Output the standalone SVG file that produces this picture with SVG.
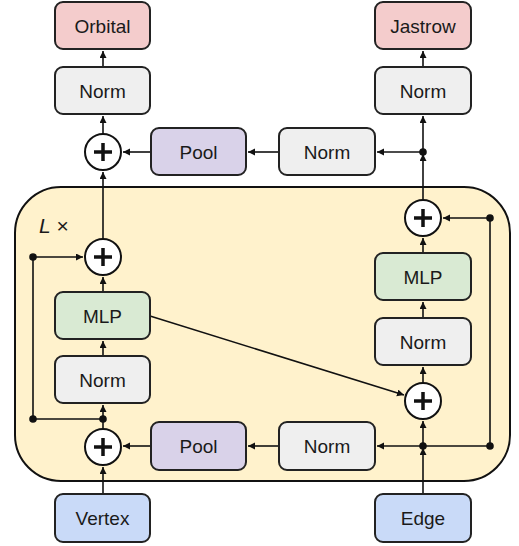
<svg xmlns="http://www.w3.org/2000/svg" width="519" height="546" viewBox="0 0 519 546">
<style>
.box{stroke:#222;stroke-width:2}
.t{font-family:"Liberation Sans",Arial,sans-serif;font-size:19px;fill:#1a1a1a;text-anchor:middle;dominant-baseline:central}
.out{fill:#f4cccc}.norm{fill:#efefef}.pool{fill:#d9d2e9}.mlp{fill:#d9ead3}.inp{fill:#c9daf8}
.c{fill:none;stroke:#111;stroke-width:1.6}
.add circle{fill:#fff;stroke:#111;stroke-width:2}
.add path{stroke:#111;stroke-width:3.5;fill:none}
.dot{fill:#111}
</style>
<defs>
<marker id="a" markerUnits="userSpaceOnUse" markerWidth="8" markerHeight="8" refX="7" refY="3.5" orient="auto">
<path d="M0,0 L7,3.5 L0,7 z" fill="#111"/>
</marker>
</defs>
<rect id="container" x="15" y="187" width="495" height="294" rx="46" fill="#fff2cc" stroke="#111" stroke-width="2"/>
<text x="39" y="233" font-family="Liberation Sans,Arial,sans-serif" font-size="21" fill="#1a1a1a"><tspan font-style="italic">L</tspan> ×</text>
<g id="connectors" class="c">
<path d="M103,494 V467" marker-end="url(#a)"/>
<path d="M151,446 H123" marker-end="url(#a)"/>
<path d="M279,446 H248" marker-end="url(#a)"/>
<path d="M423,446 H377" marker-end="url(#a)"/>
<path d="M423,446 H490 V218 H443" marker-end="url(#a)"/>
<path d="M423,494 V448" marker-end="url(#a)"/>
<path d="M423,446 V421" marker-end="url(#a)"/>
<path d="M103,429 V405" marker-end="url(#a)"/>
<path d="M103,419 H33 V257 H83" marker-end="url(#a)"/>
<path d="M103,356 V341" marker-end="url(#a)"/>
<path d="M103,292 V277" marker-end="url(#a)"/>
<path d="M103,239 V172" marker-end="url(#a)"/>
<path d="M103,134 V116" marker-end="url(#a)"/>
<path d="M103,67 V51" marker-end="url(#a)"/>
<path d="M151,152 H123" marker-end="url(#a)"/>
<path d="M279,152 H248" marker-end="url(#a)"/>
<path d="M423,152 H377" marker-end="url(#a)"/>
<path d="M423,200 V154" marker-end="url(#a)"/>
<path d="M423,152 V116" marker-end="url(#a)"/>
<path d="M423,67 V51" marker-end="url(#a)"/>
<path d="M423,383 V367" marker-end="url(#a)"/>
<path d="M423,318 V302" marker-end="url(#a)"/>
<path d="M423,253 V238" marker-end="url(#a)"/>
<path d="M150,316 L404,395" marker-end="url(#a)"/>
<circle class="dot" cx="423" cy="152" r="3"/>
<circle class="dot" cx="490" cy="218" r="3"/>
<circle class="dot" cx="33" cy="257" r="3"/>
<circle class="dot" cx="33" cy="419" r="3"/>
<circle class="dot" cx="103" cy="419" r="3"/>
<circle class="dot" cx="423" cy="446" r="3"/>
<circle class="dot" cx="490" cy="446" r="3"/>
</g>
<g id="orbital"><rect class="box out" x="55" y="2" width="95" height="47" rx="8"/><text class="t" x="102.5" y="26">Orbital</text></g>
<g id="norm_out_left"><rect class="box norm" x="55" y="67" width="95" height="47" rx="8"/><text class="t" x="102.5" y="91">Norm</text></g>
<g id="add_top_left" class="add"><circle cx="103" cy="152" r="18"/><path d="M94,152 H112 M103,143 V161"/></g>
<g id="pool_top"><rect class="box pool" x="151" y="128" width="95" height="47" rx="8"/><text class="t" x="198.5" y="152">Pool</text></g>
<g id="norm_top_mid"><rect class="box norm" x="279" y="128" width="96" height="47" rx="8"/><text class="t" x="327" y="152">Norm</text></g>
<g id="jastrow"><rect class="box out" x="375" y="2" width="96" height="47" rx="8"/><text class="t" x="423" y="26">Jastrow</text></g>
<g id="norm_out_right"><rect class="box norm" x="375" y="67" width="96" height="47" rx="8"/><text class="t" x="423" y="91">Norm</text></g>
<g id="add_mid_left" class="add"><circle cx="103" cy="257" r="18"/><path d="M94,257 H112 M103,248 V266"/></g>
<g id="mlp_left"><rect class="box mlp" x="55" y="292" width="95" height="47" rx="8"/><text class="t" x="102.5" y="316">MLP</text></g>
<g id="norm_left"><rect class="box norm" x="55" y="356" width="95" height="47" rx="8"/><text class="t" x="102.5" y="380">Norm</text></g>
<g id="add_bottom_left" class="add"><circle cx="103" cy="447" r="18"/><path d="M94,447 H112 M103,438 V456"/></g>
<g id="pool_bottom"><rect class="box pool" x="151" y="422" width="95" height="48" rx="8"/><text class="t" x="198.5" y="446">Pool</text></g>
<g id="norm_bottom_mid"><rect class="box norm" x="279" y="422" width="96" height="48" rx="8"/><text class="t" x="327" y="446">Norm</text></g>
<g id="vertex"><rect class="box inp" x="55" y="494" width="95" height="48" rx="8"/><text class="t" x="102.5" y="518">Vertex</text></g>
<g id="add_top_right" class="add"><circle cx="423" cy="218" r="18"/><path d="M414,218 H432 M423,209 V227"/></g>
<g id="mlp_right"><rect class="box mlp" x="375" y="253" width="96" height="47" rx="8"/><text class="t" x="423" y="277">MLP</text></g>
<g id="norm_right"><rect class="box norm" x="375" y="318" width="96" height="47" rx="8"/><text class="t" x="423" y="342">Norm</text></g>
<g id="add_bottom_right" class="add"><circle cx="423" cy="401" r="18"/><path d="M414,401 H432 M423,392 V410"/></g>
<g id="edge"><rect class="box inp" x="375" y="494" width="96" height="48" rx="8"/><text class="t" x="423" y="518">Edge</text></g>
</svg>
